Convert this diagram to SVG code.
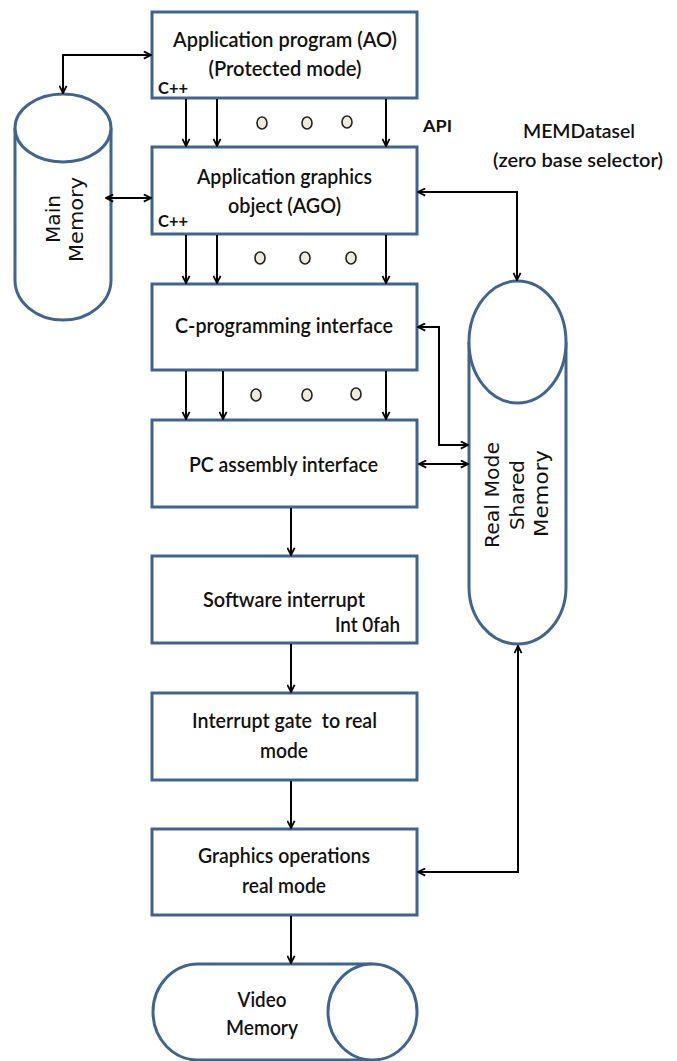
<svg xmlns="http://www.w3.org/2000/svg" width="677" height="1061" viewBox="0 0 677 1061">
  <style>
    .box { fill: #ffffff; stroke: #41648f; stroke-width: 3; }
    .mem { fill: #ffffff; stroke: #41648f; stroke-width: 3; }
    .lbl { font-family: Lato, "Open Sans", "Liberation Sans", sans-serif; font-weight: 600; font-size: 20.5px; fill: #111; text-anchor: middle; }
    .vlbl { font-family: "DejaVu Sans", Verdana, sans-serif; font-size: 20px; fill: #111; text-anchor: middle; }
    .tag { font-family: Lato, "Liberation Sans", sans-serif; font-weight: bold; font-size: 17px; fill: #111; }
    .note { font-family: Lato, "Open Sans", "Liberation Sans", sans-serif; font-weight: 600; font-size: 19px; fill: #111; text-anchor: middle; }
    .wire { fill: none; stroke: #000; stroke-width: 2; }
    .dot { fill: #ecebdc; stroke: #222; stroke-width: 1.6; }
  </style>
  <defs>
    <marker id="ah" viewBox="0 0 10 10" refX="9" refY="5" markerWidth="9" markerHeight="9" markerUnits="userSpaceOnUse" orient="auto-start-reverse">
      <path d="M1,1 L9,5 L1,9" fill="none" stroke="#000" stroke-width="2"/>
    </marker>
  </defs>

  <!-- main memory cylinder -->
  <g id="main-memory">
    <path class="mem" d="M15,128 V280 A48,40 0 0 0 111,280 V128"/>
    <ellipse class="mem" cx="63" cy="128" rx="48" ry="34"/>
    <text class="vlbl" transform="translate(60,219) rotate(-90)" textLength="48" lengthAdjust="spacingAndGlyphs">Main</text>
    <text class="vlbl" transform="translate(83,219.5) rotate(-90)" textLength="85" lengthAdjust="spacingAndGlyphs">Memory</text>
  </g>

  <!-- shared memory cylinder -->
  <g id="shared-memory">
    <path class="mem" d="M469,342 V587 A48.5,57 0 0 0 566,587 V342"/>
    <ellipse class="mem" cx="517.5" cy="342" rx="48.5" ry="61"/>
    <text class="vlbl" transform="translate(499,495) rotate(-90)" textLength="106" lengthAdjust="spacingAndGlyphs">Real Mode</text>
    <text class="vlbl" transform="translate(524,495) rotate(-90)" textLength="70" lengthAdjust="spacingAndGlyphs">Shared</text>
    <text class="vlbl" transform="translate(548,493.5) rotate(-90)" textLength="87" lengthAdjust="spacingAndGlyphs">Memory</text>
  </g>

  <!-- video memory, horizontal cylinder -->
  <g id="video-memory">
    <path class="mem" d="M372.5,964 H198 A45,48 0 0 0 198,1060 H372.5"/>
    <ellipse class="mem" cx="372.5" cy="1012" rx="44.5" ry="48"/>
    <text class="lbl" x="262" y="1007" font-weight="normal" textLength="49" lengthAdjust="spacingAndGlyphs">Video</text>
    <text class="lbl" x="262" y="1035" font-weight="normal" textLength="72" lengthAdjust="spacingAndGlyphs">Memory</text>
  </g>

  <g id="app-program">
    <rect class="box" x="152" y="12" width="265" height="86"/>
    <text class="lbl" x="285" y="47" textLength="224" lengthAdjust="spacingAndGlyphs">Application program (AO)</text>
    <text class="lbl" x="285" y="76" textLength="153" lengthAdjust="spacingAndGlyphs">(Protected mode)</text>
    <text class="tag" x="158" y="94" textLength="30" lengthAdjust="spacingAndGlyphs">C++</text>
  </g>

  <g id="app-graphics-object">
    <rect class="box" x="152" y="147" width="265" height="87"/>
    <text class="lbl" x="284.5" y="184" textLength="175" lengthAdjust="spacingAndGlyphs">Application graphics</text>
    <text class="lbl" x="284.5" y="213" textLength="113" lengthAdjust="spacingAndGlyphs">object (AGO)</text>
    <text class="tag" x="158" y="227" textLength="30" lengthAdjust="spacingAndGlyphs">C++</text>
  </g>

  <g id="c-interface">
    <rect class="box" x="152" y="284" width="265" height="86"/>
    <text class="lbl" x="284" y="333" textLength="218" lengthAdjust="spacingAndGlyphs">C-programming interface</text>
  </g>

  <g id="asm-interface">
    <rect class="box" x="152" y="420" width="265" height="87"/>
    <text class="lbl" x="283.5" y="472" textLength="189" lengthAdjust="spacingAndGlyphs">PC assembly interface</text>
  </g>

  <g id="software-interrupt">
    <rect class="box" x="152" y="556" width="265" height="87"/>
    <text class="lbl" x="284" y="607" textLength="162" lengthAdjust="spacingAndGlyphs">Software interrupt</text>
    <text class="lbl" x="367.5" y="632" textLength="65" lengthAdjust="spacingAndGlyphs">Int 0fah</text>
  </g>

  <g id="interrupt-gate">
    <rect class="box" x="152" y="693" width="265" height="87"/>
    <text class="lbl" x="284.5" y="728" textLength="185" lengthAdjust="spacingAndGlyphs" xml:space="preserve">Interrupt gate  to real</text>
    <text class="lbl" x="284" y="758" textLength="48" lengthAdjust="spacingAndGlyphs">mode</text>
  </g>

  <g id="graphics-ops">
    <rect class="box" x="152" y="829" width="265" height="86"/>
    <text class="lbl" x="284" y="863" textLength="172" lengthAdjust="spacingAndGlyphs">Graphics operations</text>
    <text class="lbl" x="284" y="893" textLength="84" lengthAdjust="spacingAndGlyphs">real mode</text>
  </g>

  <!-- free labels -->
  <g id="labels">
    <text class="tag" x="423" y="132" font-size="18.5" textLength="29" lengthAdjust="spacingAndGlyphs">API</text>
    <text class="note" x="579" y="138" textLength="112" lengthAdjust="spacingAndGlyphs">MEMDatasel</text>
    <text class="note" x="578" y="167" textLength="170" lengthAdjust="spacingAndGlyphs">(zero base selector)</text>
  </g>

  <!-- parallel-line ellipsis dots -->
  <g id="dots">
    <ellipse class="dot" cx="262" cy="123" rx="5" ry="6"/>
    <ellipse class="dot" cx="307" cy="123" rx="5" ry="6"/>
    <ellipse class="dot" cx="347" cy="122" rx="5" ry="6"/>
    <ellipse class="dot" cx="260" cy="258" rx="5" ry="6"/>
    <ellipse class="dot" cx="305" cy="258" rx="5" ry="6"/>
    <ellipse class="dot" cx="351" cy="258" rx="5" ry="6"/>
    <ellipse class="dot" cx="256" cy="395" rx="5" ry="6"/>
    <ellipse class="dot" cx="307" cy="395" rx="5" ry="6"/>
    <ellipse class="dot" cx="356" cy="394" rx="5" ry="6"/>
  </g>

  <g id="connectors">
    <!-- main memory links -->
    <path class="wire" d="M63,93 V55 H151" marker-start="url(#ah)" marker-end="url(#ah)"/>
    <path class="wire" d="M106,198 H151" marker-start="url(#ah)" marker-end="url(#ah)"/>
    <!-- AO to AGO -->
    <path class="wire" d="M186,99 V146" marker-end="url(#ah)"/>
    <path class="wire" d="M217,99 V146" marker-end="url(#ah)"/>
    <path class="wire" d="M386,99 V146" marker-end="url(#ah)"/>
    <!-- AGO to C interface -->
    <path class="wire" d="M186,235 V283" marker-end="url(#ah)"/>
    <path class="wire" d="M217,235 V283" marker-end="url(#ah)"/>
    <path class="wire" d="M386,235 V283" marker-end="url(#ah)"/>
    <!-- C interface to assembly interface -->
    <path class="wire" d="M186,371 V419" marker-end="url(#ah)"/>
    <path class="wire" d="M223,371 V419" marker-end="url(#ah)"/>
    <path class="wire" d="M386,371 V419" marker-end="url(#ah)"/>
    <!-- main chain -->
    <path class="wire" d="M291,508 V555" marker-end="url(#ah)"/>
    <path class="wire" d="M291,644 V692" marker-end="url(#ah)"/>
    <path class="wire" d="M291,781 V828" marker-end="url(#ah)"/>
    <path class="wire" d="M291,916 V963" marker-end="url(#ah)"/>
    <!-- shared memory links -->
    <path class="wire" d="M418,192 H517 V280" marker-start="url(#ah)" marker-end="url(#ah)"/>
    <path class="wire" d="M418,327 H439 V445 H468" marker-start="url(#ah)" marker-end="url(#ah)"/>
    <path class="wire" d="M419,464 H468" marker-start="url(#ah)" marker-end="url(#ah)"/>
    <path class="wire" d="M418,872 H518 V646" marker-start="url(#ah)" marker-end="url(#ah)"/>
  </g>
</svg>
